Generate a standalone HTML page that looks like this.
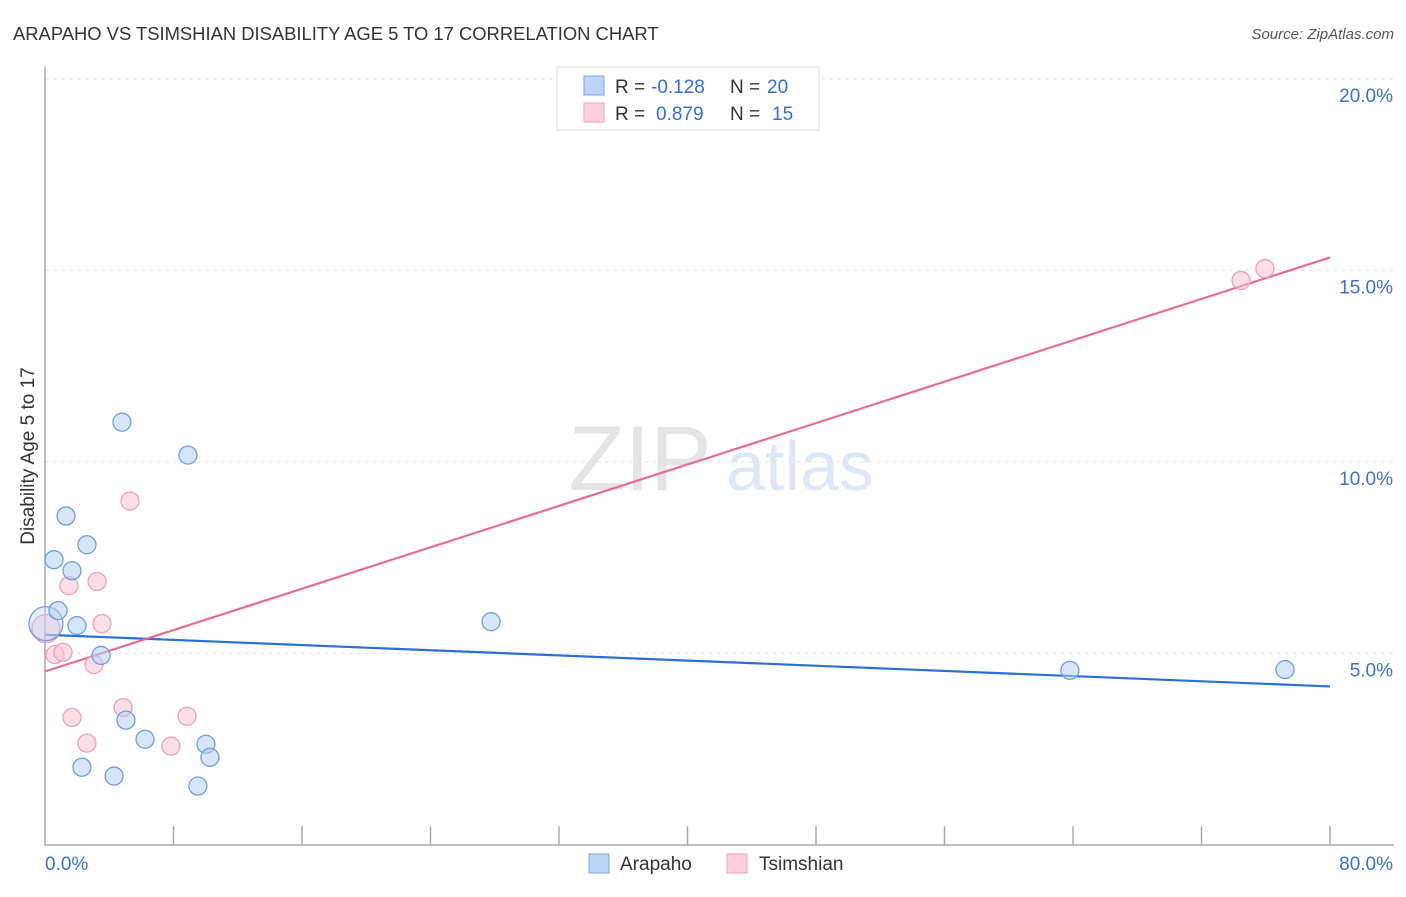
<!DOCTYPE html>
<html><head><meta charset="utf-8"><style>
body{margin:0;background:#fff;font-family:"Liberation Sans",sans-serif}
svg text{font-family:"Liberation Sans",sans-serif}
</style></head><body>
<svg id="chart" width="1406" height="892">
<text x="13" y="40" font-size="18.4" fill="#333">ARAPAHO VS TSIMSHIAN DISABILITY AGE 5 TO 17 CORRELATION CHART</text>
<text x="1394" y="39" font-size="15" fill="#555" font-style="italic" text-anchor="end">Source: ZipAtlas.com</text>
<text x="640" y="490" font-size="92" fill="#e4e4e4" font-family="Liberation Serif" text-anchor="middle">ZIP</text>
<text x="800" y="490" font-size="70" fill="#dce8f7" text-anchor="middle">atlas</text>
<text transform="translate(34,456) rotate(-90)" font-size="19" fill="#333" text-anchor="middle">Disability Age 5 to 17</text>
<g id="grid"></g><g id="axes"></g><g id="lines"></g><g id="pts"></g>
<g>
<rect x="557" y="67" width="262" height="63" fill="#fff" stroke="#ddd"/>
<rect x="584" y="76" width="20" height="19" fill="#bcd4f5" stroke="#7aa6e6"/>
<rect x="584" y="103" width="20" height="19" fill="#fbcfdc" stroke="#eea5bb"/>
<text x="615" y="93" font-size="19" fill="#333">R =</text>
<text x="651" y="93" font-size="19" fill="#2f6fd6">-0.128</text>
<text x="730" y="93" font-size="19" fill="#333">N =</text>
<text x="767" y="93" font-size="19" fill="#2f6fd6">20</text>
<text x="615" y="120" font-size="19" fill="#333">R =</text>
<text x="656" y="120" font-size="19" fill="#2f6fd6">0.879</text>
<text x="730" y="120" font-size="19" fill="#333">N =</text>
<text x="772" y="120" font-size="19" fill="#2f6fd6">15</text>
</g>
<g>
<rect x="589" y="854" width="20" height="19" fill="#bcd4f5" stroke="#7aa6e6"/>
<text x="620" y="870" font-size="19" fill="#333">Arapaho</text>
<rect x="727" y="854" width="20" height="19" fill="#fbcfdc" stroke="#eea5bb"/>
<text x="759" y="870" font-size="19" fill="#333">Tsimshian</text>
</g>
</svg>
<script>
const yTicks=[5,10,15,20];
const yTickLabels=["5.0%","10.0%","15.0%","20.0%"];
const arapahoX=[0.06,0.56,0.81,1.31,1.68,1.99,2.30,2.61,3.49,4.30,4.79,5.04,6.23,8.90,9.52,10.02,10.27,27.77,63.81,77.2];
const arapahoY=[5.78,7.45,6.12,8.59,7.16,5.73,2.03,7.84,4.95,1.80,11.04,3.26,2.76,10.18,1.54,2.63,2.29,5.83,4.56,4.58];
const arapahoR=[17,9,9,9,9,9,9,9,9,9,9,9,9,9,9,9,9,9,9,9];
const tsimX=[0.06,0.62,1.12,1.49,1.68,2.61,3.05,3.24,3.55,4.86,5.29,7.84,8.84,74.46,75.95];
const tsimY=[5.65,4.97,5.03,6.77,3.33,2.66,4.71,6.88,5.78,3.59,8.98,2.58,3.36,14.74,15.05];
const tsimR=[14,9,9,9,9,9,9,9,9,9,9,9,9,9,9];
const arapahoTrend=[5.49,4.14];
const tsimTrend=[4.53,15.34];
const X=v=>45+v/80*1285, Y=v=>845-v*38.3;
const NS="http://www.w3.org/2000/svg";
function mk(tag,attrs,parent){const e=document.createElementNS(NS,tag);for(const k in attrs)e.setAttribute(k,attrs[k]);document.getElementById(parent).appendChild(e);return e;}
yTicks.forEach((t,i)=>{
 const l=mk('line',{x1:45,x2:1394,y1:Y(t),y2:Y(t),stroke:'#e2e2e2','stroke-dasharray':'4,4'},'grid');
 
 
 const tx=mk('text',{x:1393,y:Y(t)+23,'font-size':19,fill:'#3b6fd4','text-anchor':'end'},'grid');
 tx.textContent=yTickLabels[i];
 
 
});
const ax=mk('path',{d:'M45,67V845H1394',stroke:'#aaa','stroke-width':1.5,fill:'none'},'axes');


for(let i=1;i<=10;i++){const t=mk('line',{x1:X(i*8),x2:X(i*8),y1:826,y2:845,stroke:'#aaa','stroke-width':1.5},'axes');
 
 }
const xl=mk('text',{x:45,y:870,'font-size':19,fill:'#3b6fd4'},'axes');xl.textContent='0.0%';


const xr=mk('text',{x:1393,y:870,'font-size':19,fill:'#3b6fd4','text-anchor':'end'},'axes');xr.textContent='80.0%';


function pts(xs,ys,rs,fill,stroke,name){xs.forEach((x,i)=>{const c=mk('circle',{cx:X(x),cy:Y(ys[i]),r:rs[i],fill:fill,stroke:stroke,'stroke-width':1.3,'fill-opacity':rs[i]>10?0.4:0.55},'pts');
 
 });}
pts(tsimX,tsimY,tsimR,'#f9c3d3','#eea0b8','tsimshian-point');
pts(arapahoX,arapahoY,arapahoR,'#b7d0f3','#6d9de3','arapaho-point');
const l1=mk('line',{x1:X(0),x2:X(80),y1:Y(arapahoTrend[0]),y2:Y(arapahoTrend[1]),stroke:'#2a6fd6','stroke-width':2.2},'lines');


const l2=mk('line',{x1:X(0),x2:X(80),y1:Y(tsimTrend[0]),y2:Y(tsimTrend[1]),stroke:'#e8699a','stroke-width':2.2},'lines');


</script>
</body></html>
